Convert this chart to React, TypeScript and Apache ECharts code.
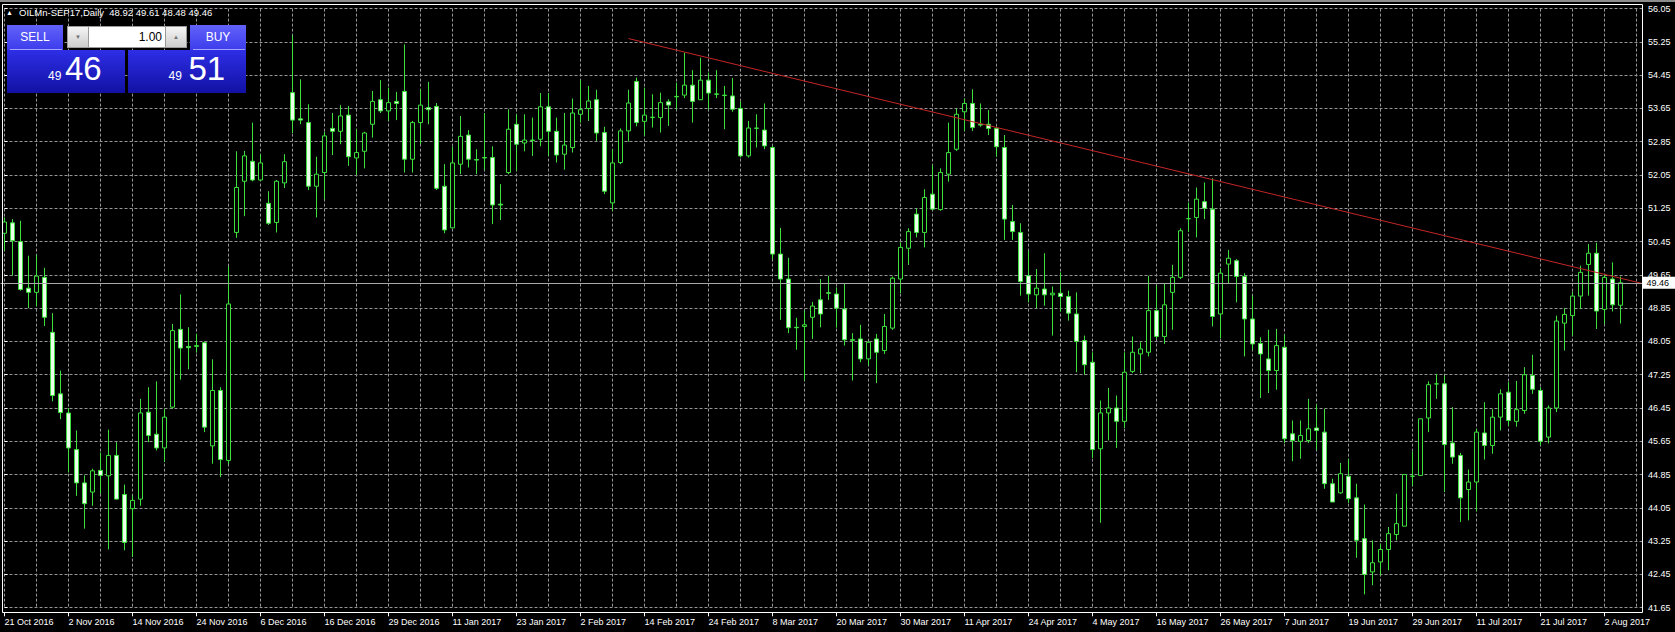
import React, { useEffect, useRef } from "react";
import * as echarts from "echarts";

// ---------------- data ----------------
const SYMBOL = "OILMn-SEP17,Daily";
const FIRST_DAY = "2016-10-21";
const HOLIDAYS = ["2016-12-26", "2017-01-02", "2017-04-14"];
const MONTHS = ["Jan", "Feb", "Mar", "Apr", "May", "Jun", "Jul", "Aug", "Sep", "Oct", "Nov", "Dec"];
const EMPTY_SLOTS = 3;

const OPEN: number[] = [
  50.65, 50.90, 50.45, 49.33, 49.23, 49.59, 48.27, 46.79, 46.33, 45.45,
  44.65, 44.43, 44.95, 44.82, 45.31, 44.37, 44.03, 44.26, 46.35, 45.82,
  45.49, 46.47, 48.34, 47.93, 47.93, 48.02, 45.54, 46.87, 45.19, 50.67,
  51.90, 52.38, 51.93, 51.37, 50.91, 51.86, 54.03, 53.40, 53.31, 51.78,
  52.11, 53.17, 53.10, 53.49, 52.46, 52.62, 53.27, 53.86, 53.59, 53.82,
  54.06, 52.43, 53.31, 53.67, 53.70, 51.78, 50.78, 52.31, 53.01, 52.42,
  52.47, 52.47, 51.35, 52.11, 53.27, 52.82, 52.88, 52.91, 53.69, 53.10,
  52.55, 52.71, 53.51, 53.65, 53.86, 53.07, 51.38, 52.35, 53.11, 54.30,
  53.34, 53.43, 53.43, 53.81, 53.93, 53.97, 54.21, 53.86, 54.33, 54.00,
  53.97, 53.95, 53.65, 52.51, 53.17, 53.13, 52.71, 50.15, 49.55, 48.39,
  48.41, 48.63, 49.05, 49.22, 49.19, 48.83, 48.09, 48.11, 47.63, 48.11,
  47.83, 48.37, 49.55, 50.29, 51.11, 50.67, 51.59, 51.22, 52.07, 52.67,
  53.57, 53.77, 53.27, 53.27, 53.17, 52.71, 50.93, 50.67, 49.63, 49.17,
  49.31, 49.17, 49.21, 49.13, 48.71, 48.07, 47.55, 45.47, 46.33, 46.45,
  46.13, 47.33, 47.75, 47.79, 48.79, 48.17, 49.23, 49.59, 51.00, 51.03,
  51.41, 51.23, 48.71, 49.91, 49.99, 49.61, 48.59, 48.00, 47.63, 47.35,
  47.91, 45.83, 45.65, 45.67, 45.97, 45.87, 44.63, 44.41, 44.81, 44.29,
  43.31, 42.51, 42.75, 43.05, 43.41, 43.61, 44.81, 44.83, 46.21, 47.03,
  47.03, 45.61, 45.31, 44.49, 44.67, 45.85, 45.55, 46.23, 46.83, 46.13,
  46.39, 47.23, 46.87, 45.75, 46.45, 48.49, 48.67, 49.14, 49.90, 50.17,
  48.82, 49.55, 48.92,
];

const HIGH: number[] = [
  51.03, 50.99, 50.95, 50.11, 50.13, 49.82, 48.73, 47.35, 46.45, 45.91,
  44.83, 44.99, 45.38, 45.93, 45.63, 44.61, 44.35, 46.67, 46.95, 47.09,
  46.43, 48.47, 49.18, 48.39, 48.23, 48.05, 47.62, 46.95, 49.86, 52.62,
  52.63, 53.31, 52.55, 51.66, 51.93, 52.55, 55.41, 54.35, 53.75, 52.49,
  53.09, 53.54, 53.73, 53.71, 53.15, 53.09, 54.07, 54.33, 54.15, 54.05,
  55.19, 53.35, 54.11, 54.29, 53.78, 52.31, 52.73, 53.47, 53.13, 52.67,
  53.54, 52.74, 51.83, 53.63, 53.51, 53.51, 53.43, 54.02, 54.02, 53.43,
  53.54, 53.89, 54.33, 54.19, 54.10, 53.21, 52.66, 53.17, 54.10, 54.39,
  54.15, 53.99, 54.03, 53.87, 54.27, 54.99, 54.57, 54.87, 54.51, 54.57,
  54.19, 54.38, 53.82, 53.35, 53.51, 53.77, 52.75, 50.78, 50.06, 48.62,
  48.79, 49.00, 49.55, 49.63, 49.35, 49.43, 48.25, 48.45, 48.05, 48.23,
  48.71, 49.61, 50.43, 50.77, 51.25, 51.71, 52.29, 52.21, 53.31, 53.65,
  53.89, 54.11, 53.77, 53.61, 53.21, 53.01, 51.33, 50.89, 50.23, 49.79,
  50.17, 49.37, 49.71, 49.27, 49.23, 48.19, 47.79, 46.63, 46.93, 46.75,
  47.79, 48.17, 48.03, 49.63, 49.39, 49.43, 49.89, 50.77, 51.39, 51.75,
  51.87, 51.97, 49.81, 50.25, 50.03, 49.69, 49.15, 48.15, 48.33, 48.35,
  48.21, 46.15, 46.15, 46.67, 46.53, 46.43, 44.75, 45.13, 45.23, 44.63,
  44.13, 43.27, 43.19, 43.59, 44.39, 44.85, 45.41, 46.19, 47.09, 47.27,
  47.23, 46.47, 45.37, 44.97, 45.95, 46.59, 46.42, 46.90, 47.07, 47.10,
  47.43, 47.73, 46.95, 46.51, 48.67, 48.85, 49.25, 49.87, 50.39, 50.42,
  49.67, 49.95, 49.61,
];

const LOW: number[] = [
  50.23, 49.63, 49.27, 48.85, 48.90, 48.42, 46.61, 46.18, 44.90, 44.34,
  43.55, 44.10, 44.39, 43.05, 44.25, 43.03, 42.87, 44.10, 45.63, 45.43,
  45.15, 46.43, 47.13, 47.38, 47.78, 45.87, 45.11, 44.79, 45.10, 50.54,
  51.06, 51.90, 51.91, 50.85, 50.67, 51.74, 53.06, 53.27, 51.69, 51.03,
  51.47, 52.53, 52.79, 52.27, 52.05, 52.21, 52.95, 53.54, 53.35, 53.37,
  52.11, 52.11, 52.79, 53.27, 51.69, 50.65, 50.77, 52.07, 52.23, 52.07,
  52.18, 50.87, 50.97, 52.07, 52.15, 52.62, 52.51, 52.74, 52.51, 52.35,
  52.18, 52.59, 53.31, 53.35, 52.87, 51.59, 51.19, 52.31, 52.85, 53.22,
  53.00, 53.19, 53.07, 53.23, 53.63, 53.90, 53.31, 53.85, 53.63, 53.90,
  53.15, 53.57, 52.47, 52.47, 52.71, 52.67, 50.03, 48.57, 48.25, 47.85,
  47.11, 48.11, 48.39, 49.05, 48.38, 47.95, 47.11, 47.55, 47.47, 47.05,
  47.75, 48.33, 49.21, 49.89, 50.55, 50.31, 51.21, 51.19, 51.89, 52.63,
  53.11, 53.11, 53.21, 53.01, 52.49, 50.49, 50.49, 49.15, 48.99, 48.85,
  48.91, 48.19, 48.77, 48.55, 47.31, 47.25, 45.25, 43.69, 45.67, 45.49,
  45.97, 47.29, 47.29, 47.69, 48.11, 47.99, 48.33, 49.55, 50.69, 50.55,
  50.99, 48.41, 48.13, 49.45, 48.99, 47.69, 47.85, 46.69, 46.81, 46.89,
  45.61, 45.17, 45.23, 45.61, 45.45, 44.51, 44.19, 44.39, 44.17, 42.85,
  41.97, 42.19, 42.43, 42.55, 43.27, 43.61, 44.57, 44.83, 45.87, 46.67,
  44.43, 45.11, 43.71, 43.75, 43.97, 45.21, 45.35, 45.91, 46.02, 46.00,
  46.31, 46.79, 45.55, 45.60, 46.35, 47.83, 48.19, 48.83, 49.15, 48.35,
  48.47, 48.77, 48.48,
];

const CLOSE: number[] = [
  50.92, 50.47, 49.30, 49.23, 49.62, 48.63, 46.75, 46.34, 45.49, 44.65,
  44.15, 44.94, 44.83, 45.31, 44.26, 43.22, 44.23, 46.33, 45.79, 45.49,
  46.23, 48.31, 47.89, 47.90, 47.95, 45.99, 46.87, 45.21, 48.95, 51.75,
  52.51, 51.93, 52.34, 50.89, 51.90, 52.37, 53.37, 53.37, 51.78, 52.07,
  52.99, 53.10, 53.47, 52.49, 52.59, 53.06, 53.82, 53.59, 53.79, 53.77,
  52.43, 53.31, 53.73, 53.62, 51.73, 50.73, 52.34, 52.98, 52.43, 52.41,
  52.46, 51.33, 51.33, 53.15, 52.79, 52.89, 52.89, 53.69, 53.10, 52.53,
  52.77, 53.54, 53.62, 53.83, 53.06, 51.66, 52.34, 53.11, 53.78, 53.31,
  53.49, 53.44, 53.79, 53.73, 53.94, 54.21, 53.82, 54.33, 54.02, 53.99,
  53.96, 53.63, 52.51, 53.18, 53.18, 52.75, 50.15, 49.55, 48.38, 48.38,
  48.45, 48.90, 48.71, 49.21, 48.85, 48.09, 48.08, 47.63, 48.03, 47.79,
  48.41, 49.57, 50.31, 50.69, 50.67, 51.51, 51.23, 52.11, 52.59, 53.51,
  53.77, 53.19, 53.25, 53.17, 52.73, 50.99, 50.69, 49.49, 49.19, 49.33,
  49.17, 49.21, 49.13, 48.73, 48.05, 47.49, 45.45, 46.33, 46.45, 46.13,
  47.31, 47.79, 47.87, 48.79, 48.17, 48.93, 49.59, 50.71, 51.00, 51.47,
  51.25, 48.65, 49.69, 50.05, 49.61, 48.59, 47.99, 47.75, 47.35, 47.95,
  45.71, 45.67, 45.79, 45.95, 45.91, 44.63, 44.19, 44.87, 44.27, 43.27,
  42.45, 42.73, 43.05, 43.43, 43.67, 44.85, 44.81, 46.19, 47.01, 47.03,
  45.57, 45.27, 44.29, 44.67, 45.87, 45.55, 46.23, 46.79, 46.15, 46.41,
  47.25, 46.90, 45.65, 46.45, 48.54, 48.70, 49.14, 49.71, 50.17, 48.78,
  49.59, 48.93, 49.46,
];

const Y_MIN = 41.65;
const Y_MAX = 56.05;
const Y_STEP = 0.8;
const X_GRID_STEP = 4;
const X_LABEL_STEP = 8;

const BID = 49.46;
const ASK = 49.51;
const LOT = "1.00";

const TREND_BARS = [78, 205];
const TREND_PRICES = [55.33, 49.43];

// ---------------- layout / style ----------------
const W = 1675;
const H = 632;
const BAR_PX = 8;
const FIRST_BAR_X = 4.5;
const PLOT_TOP = 8.6;
const PLOT_BOTTOM = 607.7;
const FRAME_RIGHT = 1642;
const FONT = '"Liberation Sans", Arial, sans-serif';
const GREEN = "#3ee03e";
const GRID_COLOR = "#969696";

function tradingDays(start: string, count: number, holidays: string[]): string[] {
  const out: string[] = [];
  const d = new Date(start + "T00:00:00Z");
  while (out.length < count) {
    const dow = d.getUTCDay();
    const iso = d.toISOString().slice(0, 10);
    if (dow !== 0 && dow !== 6 && holidays.indexOf(iso) < 0) {
      out.push(`${d.getUTCDate()} ${MONTHS[d.getUTCMonth()]} ${d.getUTCFullYear()}`);
    }
    d.setUTCDate(d.getUTCDate() + 1);
  }
  return out;
}

function buildOption() {
  const n = OPEN.length;
  const ncat = n + EMPTY_SLOTS;
  const dates = tradingDays(FIRST_DAY, ncat, HOLIDAYS);
  const candles = OPEN.map((o, i) => [o, CLOSE[i], LOW[i], HIGH[i]]);
  const span = Math.round((Y_MAX - Y_MIN) * 100) / 100;
  const plotH = PLOT_BOTTOM - PLOT_TOP;
  const lg = (a: string, b: string) =>
    new echarts.graphic.LinearGradient(0, 0, 0, 1, [
      { offset: 0, color: a },
      { offset: 1, color: b },
    ]);
  const f2 = (v: number) => v.toFixed(2);
  const title = `${SYMBOL}\u00a0 ${f2(OPEN[n - 1])} ${f2(HIGH[n - 1])} ${f2(LOW[n - 1])} ${f2(CLOSE[n - 1])}`;
  const [bidBig, bidSmall] = f2(BID).split(".");
  const [askBig, askSmall] = f2(ASK).split(".");

  const txt = (text: string, x: number, y: number, size: number, color: string, align = "left") => ({
    type: "text",
    z: 110,
    silent: true,
    style: { text, x, y, fill: color, fontSize: size, fontFamily: FONT, align, verticalAlign: "middle" },
  });

  return {
    animation: false,
    backgroundColor: "#000000",
    grid: [
      { left: FIRST_BAR_X - BAR_PX / 2, top: PLOT_TOP, width: ncat * BAR_PX, height: plotH, outerBoundsMode: "none" },
      { left: FIRST_BAR_X, top: PLOT_TOP, width: FRAME_RIGHT - FIRST_BAR_X, height: plotH, outerBoundsMode: "none" },
    ],
    xAxis: [
      {
        type: "category",
        gridIndex: 0,
        data: dates,
        boundaryGap: true,
        offset: 4.6,
        axisLine: { show: false },
        axisTick: { show: true, interval: X_LABEL_STEP - 1, alignWithLabel: true, length: 4, lineStyle: { color: "#ffffff" } },
        axisLabel: { interval: X_LABEL_STEP - 1, align: "left", margin: 5, color: "#ffffff", fontSize: 9, fontFamily: FONT },
        splitLine: { show: false },
      },
      {
        type: "value",
        gridIndex: 1,
        min: 0,
        max: (FRAME_RIGHT - FIRST_BAR_X) / BAR_PX,
        interval: X_GRID_STEP,
        axisLine: { show: false },
        axisTick: { show: false },
        axisLabel: { show: false },
        splitLine: { show: true, lineStyle: { color: GRID_COLOR, type: [3, 2], width: 1 } },
      },
    ],
    yAxis: [
      { type: "value", gridIndex: 0, min: Y_MIN, max: Y_MAX, show: false, splitLine: { show: false } },
      {
        type: "value",
        gridIndex: 1,
        position: "right",
        min: 0,
        max: span,
        interval: Y_STEP,
        axisLine: { show: false },
        axisTick: { show: true, length: 3, lineStyle: { color: "#ffffff" } },
        axisLabel: {
          margin: 6,
          color: "#ffffff",
          fontSize: 9,
          fontFamily: FONT,
          formatter: (v: number) => (Y_MIN + v).toFixed(2),
        },
        splitLine: { show: true, lineStyle: { color: GRID_COLOR, type: [3, 2], width: 1 } },
      },
    ],
    series: [
      {
        type: "candlestick",
        xAxisIndex: 0,
        yAxisIndex: 0,
        data: candles,
        barWidth: 4,
        itemStyle: {
          color: "#000000",
          color0: "#ecffec",
          borderColor: GREEN,
          borderColor0: GREEN,
          borderWidth: 1,
        },
        markLine: {
          silent: true,
          symbol: "none",
          animation: false,
          lineStyle: { color: "#a8a8a8", type: "solid", width: 1 },
          label: {
            show: true,
            position: "end",
            distance: -6,
            formatter: f2(BID),
            backgroundColor: "#ffffff",
            color: "#000000",
            fontSize: 9,
            fontFamily: FONT,
            padding: [2, 10, 1, 4],
          },
          data: [{ yAxis: BID }],
        },
      },
      {
        type: "line",
        xAxisIndex: 0,
        yAxisIndex: 0,
        data: TREND_BARS.map((b, i) => [b, TREND_PRICES[i]]),
        showSymbol: false,
        symbol: "none",
        silent: true,
        lineStyle: { color: "#c42626", width: 1 },
        z: 4,
      },
    ],
    graphic: [
      { type: "rect", z: 100, silent: true, shape: { x: 0, y: 0, width: W, height: 2 }, style: { fill: "#8c8c8c" } },
      {
        type: "rect",
        z: 100,
        silent: true,
        shape: { x: 2.5, y: 4.5, width: FRAME_RIGHT - 2, height: 608 },
        style: { fill: "transparent", stroke: "#ffffff", lineWidth: 1 },
      },
      txt("\u25B2", 6, 12.5, 7, "#ffffff"),
      txt(title, 19, 12.7, 9.5, "#ffffff"),
      // SELL button
      { type: "rect", z: 105, silent: true, shape: { x: 7, y: 25, width: 56, height: 25 }, style: { fill: lg("#6262fa", "#3c3cec") } },
      { type: "line", z: 106, silent: true, shape: { x1: 10, y1: 49.5, x2: 62, y2: 49.5 }, style: { stroke: "#a4a4ff", lineWidth: 1 } },
      txt("SELL", 35, 37, 12, "#ffffff", "center"),
      // BUY button
      { type: "rect", z: 105, silent: true, shape: { x: 190, y: 25, width: 56, height: 25 }, style: { fill: lg("#6262fa", "#3c3cec") } },
      { type: "line", z: 106, silent: true, shape: { x1: 193, y1: 49.5, x2: 245, y2: 49.5 }, style: { stroke: "#a4a4ff", lineWidth: 1 } },
      txt("BUY", 218, 37, 12, "#ffffff", "center"),
      // lot control
      { type: "rect", z: 105, silent: true, shape: { x: 67.5, y: 26.5, width: 119, height: 21 }, style: { fill: "#ffffff", stroke: "#9a9a9a", lineWidth: 1 } },
      { type: "rect", z: 106, silent: true, shape: { x: 67.5, y: 26.5, width: 21, height: 21 }, style: { fill: lg("#f6f6f6", "#cccccc"), stroke: "#9a9a9a", lineWidth: 1 } },
      { type: "rect", z: 106, silent: true, shape: { x: 165.5, y: 26.5, width: 21, height: 21 }, style: { fill: lg("#f6f6f6", "#cccccc"), stroke: "#9a9a9a", lineWidth: 1 } },
      txt("\u25BC", 78, 37, 6, "#707070", "center"),
      txt("\u25B2", 176, 37, 6, "#707070", "center"),
      txt(LOT, 162, 37, 12, "#000000", "right"),
      // price boxes
      { type: "rect", z: 105, silent: true, shape: { x: 7, y: 50, width: 118, height: 43 }, style: { fill: lg("#2e2ee6", "#1111a4") } },
      { type: "rect", z: 105, silent: true, shape: { x: 128, y: 50, width: 118, height: 43 }, style: { fill: lg("#2e2ee6", "#1111a4") } },
      txt(bidBig, 48, 75.5, 12, "#ffffff"),
      txt(bidSmall, 65, 68.5, 33, "#ffffff"),
      txt(askBig, 168.5, 75.5, 12, "#ffffff"),
      txt(askSmall, 188.5, 68.5, 33, "#ffffff"),
    ],
  };
}

export default function App() {
  const ref = useRef<HTMLDivElement>(null);
  useEffect(() => {
    if (!ref.current) return;
    const chart = echarts.init(ref.current, undefined, { renderer: "svg", width: W, height: H });
    chart.setOption(buildOption() as any);
    return () => chart.dispose();
  }, []);
  return (
    <div
      ref={ref}
      style={{ position: "fixed", left: 0, top: 0, width: W, height: H, background: "#000000" }}
    />
  );
}
